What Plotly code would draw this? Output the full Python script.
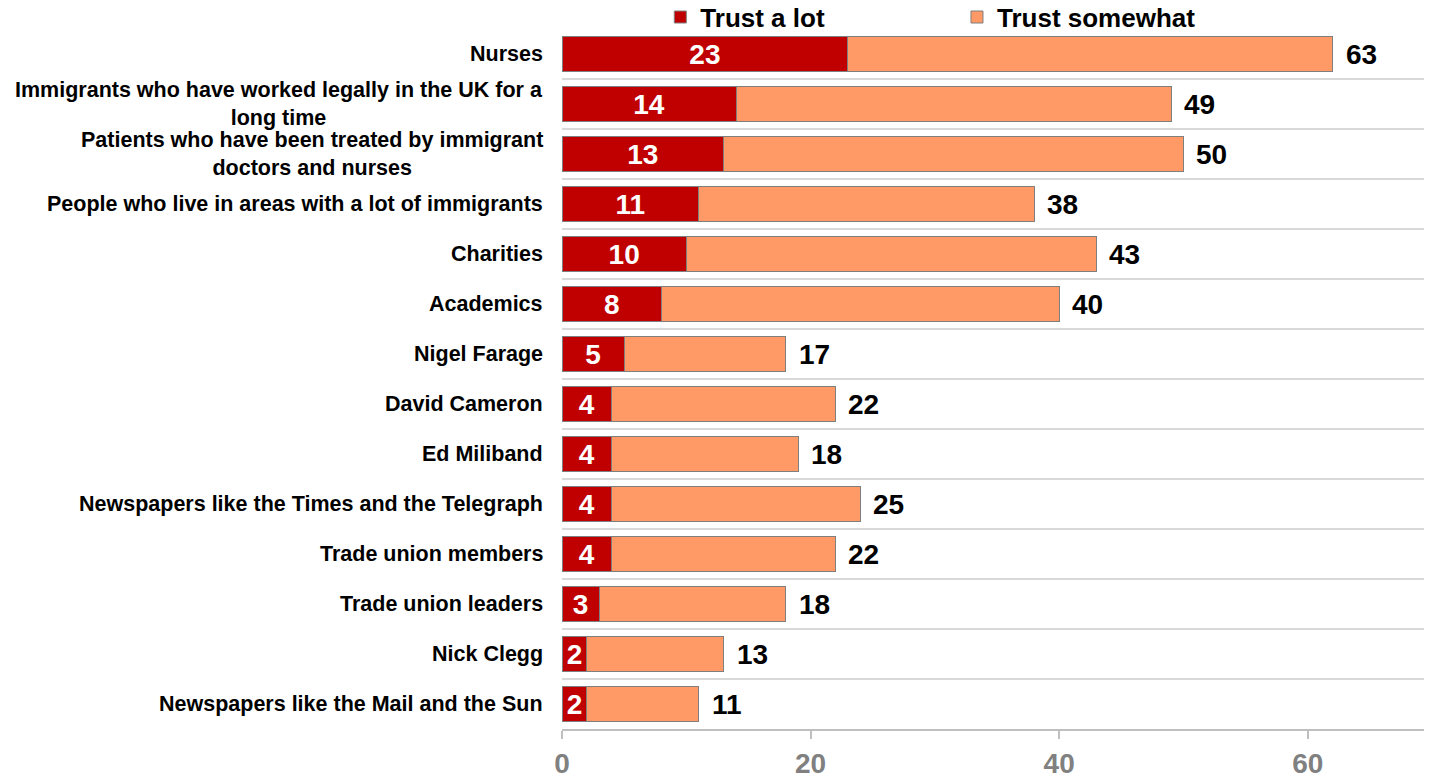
import plotly.graph_objects as go

CATEGORIES = [
    "Nurses",
    "Immigrants who have worked legally in the UK for a<br>long time",
    "Patients who have been treated by immigrant<br>doctors and nurses",
    "People who live in areas with a lot of immigrants",
    "Charities",
    "Academics",
    "Nigel Farage",
    "David Cameron",
    "Ed Miliband",
    "Newspapers like the Times and the Telegraph",
    "Trade union members",
    "Trade union leaders",
    "Nick Clegg",
    "Newspapers like the Mail and the Sun",
]
TRUST_A_LOT = [23, 14, 13, 11, 10, 8, 5, 4, 4, 4, 4, 3, 2, 2]
TRUST_SOMEWHAT = [39, 35, 37, 27, 33, 32, 13, 18, 15, 20, 18, 15, 11, 9]
TOTAL_LABELS = [63, 49, 50, 38, 43, 40, 17, 22, 18, 25, 22, 18, 13, 11]
X_TICKS = [0, 20, 40, 60]

FONT = "Liberation Sans, Arial, sans-serif"
DARK_RED = "#C00000"
ORANGE = "#FF9966"
EDGE = "#7f7f7f"

fig = go.Figure()
fig.add_trace(go.Bar(
    y=CATEGORIES, x=TRUST_A_LOT, orientation="h", name="Trust a lot",
    marker=dict(color=DARK_RED, line=dict(color=EDGE, width=1)),
    text=TRUST_A_LOT, textposition="inside", insidetextanchor="middle",
    constraintext="none", textangle=0,
    textfont=dict(family=FONT, size=28, color="white", weight="bold"),
    legend="legend",
))
fig.add_trace(go.Bar(
    y=CATEGORIES, x=TRUST_SOMEWHAT, orientation="h", name="Trust somewhat",
    marker=dict(color=ORANGE, line=dict(color=EDGE, width=1)),
    legend="legend2",
))

# total labels at bar ends
for cat, lot, some, lab in zip(CATEGORIES, TRUST_A_LOT, TRUST_SOMEWHAT, TOTAL_LABELS):
    fig.add_annotation(
        x=lot + some, y=cat, xref="x", yref="y", text=str(lab),
        showarrow=False, xanchor="left", xshift=11,
        font=dict(family=FONT, size=28, color="black", weight="bold"),
    )

# category labels, centred multi-line like the original
for cat in CATEGORIES:
    fig.add_annotation(
        x=0, y=cat, xref="paper", yref="y", text=cat,
        showarrow=False, xanchor="right", xshift=-17, align="center",
        font=dict(family=FONT, size=21.5, color="black", weight="bold"),
    )

legend_font = dict(family=FONT, size=26, color="black", weight="bold")
# page body has an 8px margin, so the figure is 8px smaller on each side
fig.update_layout(
    width=1424, height=768,
    barmode="stack", bargap=0.3,
    plot_bgcolor="white", paper_bgcolor="white",
    font=dict(family=FONT),
    margin=dict(l=554, r=0, t=21, b=47, autoexpand=False),
    showlegend=True,
    legend=dict(orientation="h", x=0.113, xanchor="left", y=1.017, yanchor="middle",
                font=legend_font, bgcolor="rgba(0,0,0,0)", itemwidth=30),
    legend2=dict(orientation="h", x=0.454, xanchor="left", y=1.017, yanchor="middle",
                 font=legend_font, bgcolor="rgba(0,0,0,0)", itemwidth=30),
)
fig.update_xaxes(
    range=[0, 70], tickvals=X_TICKS, showgrid=False, zeroline=False,
    showline=True, linecolor="#bfbfbf", linewidth=2,
    ticks="outside", ticklen=8, tickcolor="#bfbfbf", tickwidth=2,
    tickfont=dict(family=FONT, size=28, color="#808080", weight="bold"),
)
fig.update_yaxes(
    type="category", autorange="reversed", tickson="boundaries",
    showgrid=True, gridcolor="#d9d9d9", gridwidth=2,
    showticklabels=False, ticks="", zeroline=False,
)

fig.write_html("out.html")
